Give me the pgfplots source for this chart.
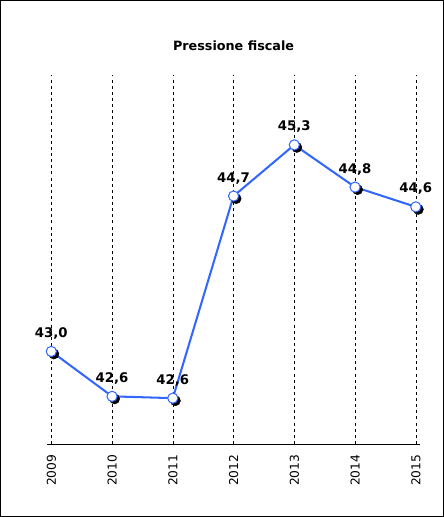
\documentclass[border=0pt]{standalone}
\usepackage{fontspec}
\setmainfont{DejaVu Sans}
\usepackage{pgfplots}
\pgfplotsset{compat=1.18}
\definecolor{ln}{RGB}{51,102,255}
\begin{document}
\begin{tikzpicture}
\begin{axis}[scale only axis, width=443pt, height=517pt,
  xmin=2008.076, xmax=2015.52, ymin=41.09, ymax=46.966,
  axis lines=none, clip=false]
\draw[black, line width=0.6pt] (axis cs:2008.16,46.91) rectangle (axis cs:2015.45,41.16);
\node[font=\bfseries\fontsize{12.5}{14}\selectfont] at (axis cs:2012,46.40) {Pressione fiscale};
\draw[black] (axis cs:2008.93,41.97) -- (axis cs:2015.07,41.97);
\pgfplotsinvokeforeach{2009,...,2015}{
  \draw[dashed, black] (axis cs:#1,41.97) -- (axis cs:#1,46.08);
  \node[rotate=90, anchor=east, font=\fontsize{12}{14}\selectfont] at (axis cs:#1,41.89) {#1};
}
\addplot[only marks, mark=*, mark size=5pt, black,
  every mark/.append style={xshift=2.5pt,yshift=-2.5pt}] coordinates
 {(2009,43.0)(2010,42.50)(2011,42.48)(2012,44.73)(2013,45.3)(2014,44.83)(2015,44.61)};
\addplot[ln, line width=2pt, mark=*, mark size=5pt,
  mark options={fill=white, draw=ln, line width=1pt},
  nodes near coords, point meta=explicit symbolic,
  every node near coord/.append style={font=\bfseries\fontsize{13}{15}\selectfont, black, yshift=8pt}]
 coordinates {(2009,43.0)[43,0] (2010,42.50)[42,6] (2011,42.48)[42,6] (2012,44.73)[44,7]
 (2013,45.3)[45,3] (2014,44.83)[44,8] (2015,44.61)[44,6]};
\end{axis}
\end{tikzpicture}
\end{document}
